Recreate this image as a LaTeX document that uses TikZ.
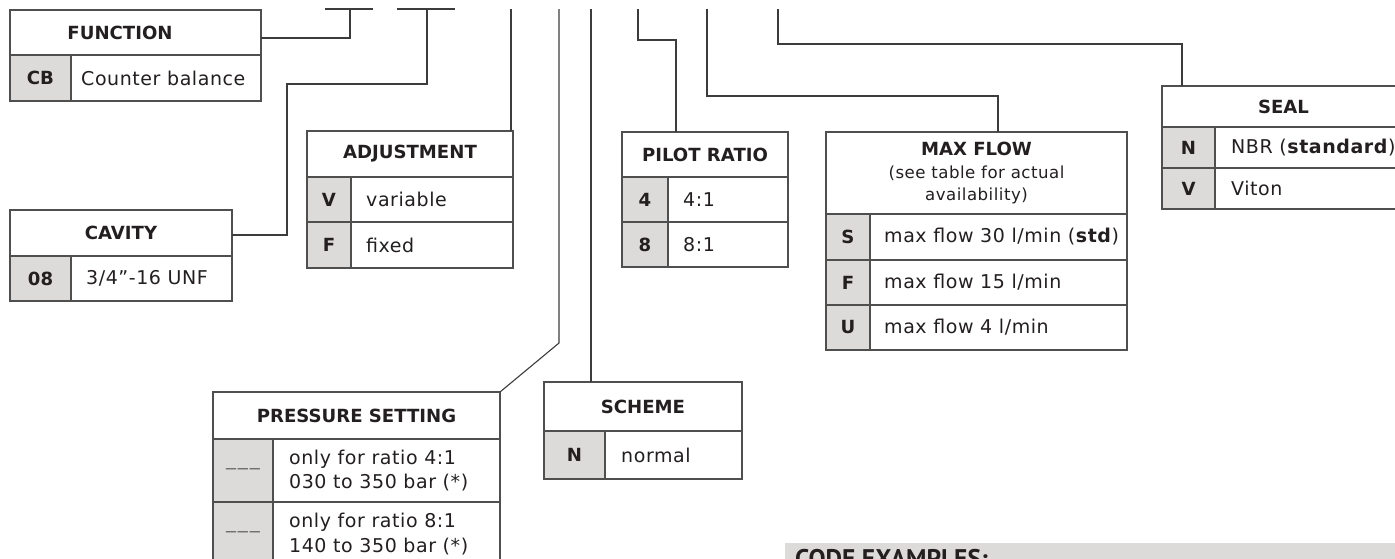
\documentclass[tikz,border=0pt]{standalone}
\usepackage{fontspec}
\setmainfont{DejaVu Sans}
\newfontfamily\valfamily{DejaVu Sans}[LetterSpace=3]
\newfontfamily\exfamily{PT Sans}
\usetikzlibrary{fit}

\definecolor{ink}{HTML}{231F20}
\definecolor{rulec}{HTML}{4F4F4F}
\definecolor{wirec}{HTML}{3C3C3C}
\definecolor{cellc}{HTML}{DCDBD9}

\tikzset{
  rule/.style={draw=rulec, line width=1.2pt},
  wire/.style={draw=wirec, line width=1.1pt},
  frame/.style={draw=rulec, line width=1.2pt, inner sep=0pt, outer sep=0pt},
  head/.style={font=\fontsize{18.1}{22}\selectfont\bfseries, text=ink, inner sep=0pt},
  code/.style={font=\fontsize{18.1}{22}\selectfont\bfseries, text=ink, inner sep=0pt},
  val/.style={font=\fontsize{19}{24.5}\selectfont\valfamily, text=ink, inner sep=0pt, anchor=west, align=left},
  note/.style={font=\fontsize{16.6}{22}\selectfont\valfamily, text=ink, inner sep=0pt, align=center},
  extitle/.style={font=\fontsize{25.5}{30}\selectfont\exfamily\bfseries, text=ink, inner sep=0pt, anchor=north west},
}

% frame, title band and shaded code column of one ordering table
% #1 name, #2 x0, #3 y0, #4 x1, #5 y1, #6 title band bottom, #7 code column edge, #8 title, #9 title centre (x,y)
\newcommand{\codetable}[9]{%
  \fill[cellc] (#2,#6) rectangle (#7,#5);
  \draw[rule] (#2,#6) -- (#4,#6);
  \draw[rule] (#7,#6) -- (#7,#5);
  \node[frame, fit={(#2,#3) (#4,#5)}] (#1) {};
  \node[head] (#1-title) at (#9) {#8};
}
% one option row: #1 name, #2 x0, #3 code edge, #4 x1, #5 row top, #6 row bottom, #7 code, #8 meaning, #9 text indent
\newcommand{\coderow}[9]{%
  \draw[rule] (#2,#5) -- (#4,#5);
  \node[code] (#1-c) at ({(#2+#3)/2},{(#5+#6)/2}) {#7};
  \node[val] (#1-v) at (#3+#9,{(#5+#6)/2}) {#8};
}
\newcommand{\blankcode}{{\mdseries\valfamily\fontsize{11.5}{13}\selectfont\color{ink}———}}

\begin{document}
\begin{tikzpicture}[x=1pt, y=-1pt]
  \useasboundingbox (0,0) rectangle (1395,558);
  \fill[white] (0,0) rectangle (1395,558);
  \clip (0,0) rectangle (1395,558);

  % ---- FUNCTION
  \codetable{fn}{10}{10}{261}{101}{55}{71}{FUNCTION}{120,32.5}
  \coderow{fn1}{10}{71}{261}{55}{101}{CB}{Counter balance}{10}

  % ---- CAVITY
  \codetable{cav}{10}{210}{232}{301}{256}{71}{CAVITY}{121,233}
  \coderow{cav1}{10}{71}{232}{256}{301}{08}{3/4”-16 UNF}{15}

  % ---- ADJUSTMENT
  \codetable{adj}{307}{131}{513}{268}{177}{351}{ADJUSTMENT}{410,154}
  \coderow{adj1}{307}{351}{513}{177}{222}{V}{variable}{15}
  \coderow{adj2}{307}{351}{513}{222}{268}{F}{fixed}{15}

  % ---- PILOT RATIO
  \codetable{pr}{622}{132}{788}{267}{177}{668}{PILOT RATIO}{705,154.5}
  \coderow{pr1}{622}{668}{788}{177}{222}{4}{4:1}{15}
  \coderow{pr2}{622}{668}{788}{222}{267}{8}{8:1}{15}

  % ---- MAX FLOW
  \codetable{mf}{826}{132}{1127}{350}{214}{870}{MAX FLOW}{976.5,148.5}
  \node[note] (mf-note) at (976.5,184.5) {(see table for actual\\availability)};
  \coderow{mf1}{826}{870}{1127}{214}{260}{S}{max flow 30 l/min (\textbf{std})}{14}
  \coderow{mf2}{826}{870}{1127}{260}{305}{F}{max flow 15 l/min}{14}
  \coderow{mf3}{826}{870}{1127}{305}{350}{U}{max flow 4 l/min}{14}

  % ---- SEAL
  \codetable{sl}{1162}{86}{1405}{209}{127}{1215}{SEAL}{1283.5,106.5}
  \coderow{sl1}{1162}{1215}{1405}{127}{168}{N}{NBR (\textbf{standard})}{16}
  \coderow{sl2}{1162}{1215}{1405}{168}{209}{V}{Viton}{16}

  % ---- SCHEME
  \codetable{sch}{544}{382}{742}{479}{431}{605}{SCHEME}{643,406.5}
  \coderow{sch1}{544}{605}{742}{431}{479}{N}{normal}{16}

  % ---- PRESSURE SETTING
  \codetable{ps}{213}{392}{500}{566}{439}{273}{PRESSURE SETTING}{356.5,415.5}
  \coderow{ps1}{213}{273}{500}{439}{502}{\blankcode}{only for ratio 4:1\\030 to 350 bar (*)}{16}
  \coderow{ps2}{213}{273}{500}{502}{566}{\blankcode}{only for ratio 8:1\\140 to 350 bar (*)}{16}

  % ---- code positions along the top edge
  \coordinate (k1) at (350,9);
  \coordinate (k2) at (427,9);
  \coordinate (k3) at (511,9);
  \coordinate (k4) at (559,9);
  \coordinate (k5) at (591,9);
  \coordinate (k6) at (638,9);
  \coordinate (k7) at (707,9);
  \coordinate (k8) at (778,9);
  \coordinate (u1a) at (325,9);
  \coordinate (u1b) at (373,9);
  \coordinate (u2a) at (397,9);
  \coordinate (u2b) at (455,9);
  \draw[wire] (u1a) -- (u1b);
  \draw[wire] (u2a) -- (u2b);

  % ---- leader lines
  \draw[wire] (fn.east |- 0,38) -| (k1);
  \draw[wire] (cav.east |- 0,235) -| (287,84) -| (k2);
  \draw[wire] (k3) -- (k3 |- adj.north);
  \draw[wire] (k4) -- (559,343) -- (ps.north east);
  \draw[wire] (k5) -- (k5 |- sch.north);
  \draw[wire] (k6) |- (676,40) -- (676,0 |- pr.north);
  \draw[wire] (k7) |- (998,96) -- (998,0 |- mf.north);
  \draw[wire] (k8) |- (1182,44) -- (1182,0 |- sl.north);

  % ---- code examples band
  \fill[cellc] (785,543) rectangle (1400,570);
  \node[extitle] (ex) at (795,549) {CODE EXAMPLES:};
\end{tikzpicture}
\end{document}
